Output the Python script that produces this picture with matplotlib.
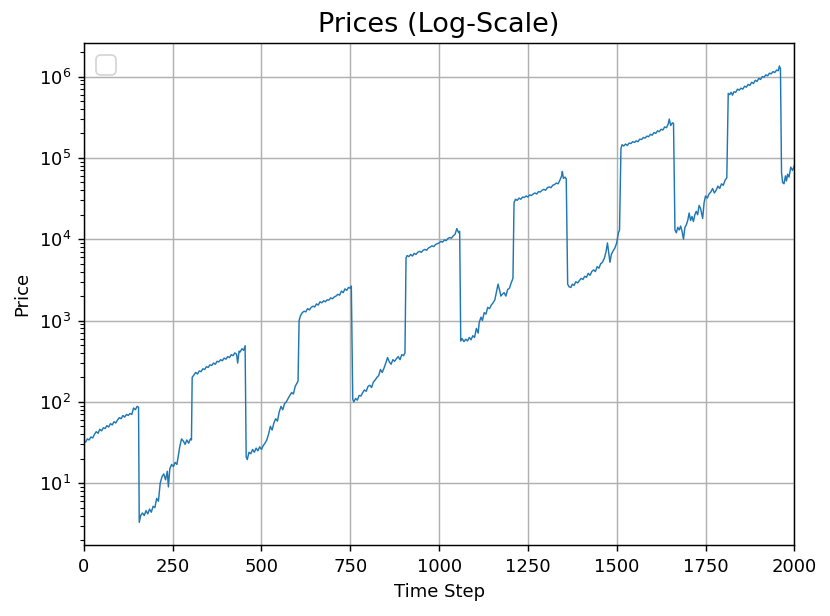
import matplotlib
matplotlib.use("Agg")
import matplotlib.pyplot as plt

# prices, every ~5 steps; each jump is two close points
t_a = [0, 5, 10, 15, 20, 25, 30, 35, 40, 45, 50, 55, 60, 65, 70, 75, 80, 85, 90, 95,
       100, 105, 110, 115, 120, 125, 130, 135, 140, 145, 150, 154]
p_a = [33, 32, 35, 34, 37, 36, 40, 43, 41, 46, 44, 48, 47, 51, 49, 54, 52, 57, 55, 60,
       64, 62, 68, 65, 70, 68, 72, 70, 84, 80, 88, 86]

t_b = [156, 160, 165, 170, 175, 180, 185, 190, 195, 200, 205, 210, 215, 220, 225, 230,
       235, 238, 242, 247, 252, 257, 262, 266, 270, 275, 280, 285, 290, 295, 300, 303]
p_b = [3.3, 4.0, 4.3, 4.0, 4.6, 4.2, 4.8, 4.4, 5.2, 5.0, 6.5, 6.0, 10, 12, 13, 11,
       14, 9, 15, 17, 16, 18, 17, 22, 28, 35, 33, 30, 34, 31, 35, 34]

t_c = [305, 310, 315, 320, 325, 330, 335, 340, 345, 350, 355, 360, 365, 370, 375, 380,
       385, 390, 395, 400, 405, 410, 415, 420, 425, 430, 433, 437, 440, 445, 450, 454]
p_c = [200, 215, 230, 220, 240, 235, 255, 250, 270, 265, 285, 280, 300, 290, 315, 310,
       330, 320, 345, 335, 360, 350, 380, 370, 400, 385, 300, 420, 410, 450, 430, 490]

t_d = [457, 460, 465, 470, 475, 480, 485, 490, 495, 500, 505, 510, 515, 520, 525, 530,
       535, 540, 545, 550, 555, 560, 565, 570, 575, 580, 585, 590, 595, 600, 603]
p_d = [21, 19.5, 24, 23, 26, 24, 27, 25, 28, 26, 29, 31, 34, 40, 50, 45,
       55, 62, 58, 75, 88, 80, 95, 100, 110, 120, 130, 125, 155, 170, 180]

t_e = [606, 610, 615, 620, 625, 630, 635, 640, 645, 650, 655, 660, 665, 670, 675, 680,
       685, 690, 695, 700, 705, 710, 715, 720, 725, 730, 735, 740, 745, 750, 753]
p_e = [1000, 1150, 1250, 1300, 1280, 1400, 1350, 1450, 1500, 1470, 1600, 1550, 1700,
       1650, 1750, 1700, 1800, 1780, 1900, 1850, 1950, 2000, 2100, 2050, 2300, 2200,
       2450, 2350, 2550, 2500, 2650]

t_f = [757, 760, 765, 770, 775, 780, 785, 790, 795, 800, 805, 810, 815, 820, 825, 830,
       835, 840, 845, 850, 855, 860, 865, 870, 875, 880, 885, 890, 895, 900, 904]
p_f = [108, 100, 110, 105, 120, 118, 130, 140, 135, 155, 160, 150, 175, 185, 200, 210,
       250, 230, 260, 300, 350, 310, 290, 330, 315, 340, 360, 330, 380, 370, 400]

t_g = [907, 910, 915, 920, 925, 930, 935, 940, 945, 950, 955, 960, 965, 970, 975, 980,
       985, 990, 995, 1000, 1005, 1010, 1015, 1020, 1025, 1030, 1035, 1040, 1045, 1050,
       1055, 1058]
p_g = [5900, 6300, 6100, 6500, 6200, 6700, 6500, 6900, 7100, 6900, 7300, 7500, 7300,
       7800, 8000, 8300, 8100, 8600, 8800, 9000, 9400, 9200, 9800, 9600, 10200, 10500,
       10300, 11000, 11500, 13500, 12000, 12500]

t_h = [1061, 1065, 1070, 1075, 1080, 1085, 1090, 1095, 1100, 1105, 1110, 1113, 1118,
       1122, 1127, 1132, 1137, 1142, 1147, 1152, 1157, 1162, 1166, 1170, 1174, 1178,
       1183, 1188, 1193, 1198, 1203, 1208]
p_h = [560, 600, 550, 590, 560, 620, 580, 650, 620, 800, 700, 950, 1100, 1000, 1250,
       1200, 1450, 1400, 1550, 1650, 1800, 2300, 2800, 2400, 2000, 2100, 2200, 2000,
       2400, 2500, 2900, 3300]

t_i = [1211, 1215, 1220, 1225, 1230, 1235, 1240, 1245, 1250, 1255, 1260, 1265, 1270,
       1275, 1280, 1285, 1290, 1295, 1300, 1305, 1310, 1315, 1320, 1325, 1330, 1335,
       1340, 1345, 1347, 1350, 1355, 1358]
p_i = [28000, 31000, 30000, 32000, 31000, 33000, 32500, 34000, 33000, 35000, 34500,
       36000, 37000, 36000, 38500, 38000, 40000, 41000, 40000, 43000, 44000, 43000,
       46000, 47000, 49000, 48000, 53000, 60000, 68000, 56000, 58000, 55000]

t_j = [1362, 1366, 1371, 1375, 1380, 1385, 1390, 1395, 1400, 1405, 1410, 1415, 1420,
       1425, 1430, 1435, 1440, 1445, 1450, 1455, 1460, 1465, 1470, 1474, 1478, 1481,
       1485, 1490, 1495, 1500, 1505, 1508]
p_j = [2800, 2600, 2550, 2800, 2700, 3000, 2900, 3100, 3300, 3200, 3500, 3400, 3800,
       3600, 4000, 4200, 4000, 4600, 4400, 5000, 5200, 5800, 7000, 9000, 6500, 5200,
       6500, 7200, 7800, 9000, 12000, 13000]

t_k = [1512, 1515, 1520, 1525, 1530, 1535, 1540, 1545, 1550, 1555, 1560, 1565, 1570,
       1575, 1580, 1585, 1590, 1595, 1600, 1605, 1610, 1615, 1620, 1625, 1630, 1635,
       1640, 1645, 1648, 1652, 1657, 1660]
p_k = [130000, 145000, 140000, 148000, 142000, 152000, 150000, 158000, 155000, 162000,
       158000, 170000, 168000, 178000, 175000, 185000, 182000, 195000, 190000, 205000,
       200000, 215000, 210000, 225000, 220000, 240000, 235000, 260000, 300000, 250000,
       270000, 265000]

t_l = [1664, 1668, 1672, 1676, 1680, 1684, 1688, 1692, 1696, 1700, 1704, 1708, 1712,
       1716, 1720, 1724, 1728, 1732, 1736, 1740, 1742, 1746, 1750, 1755, 1760, 1765,
       1770, 1775, 1780, 1785, 1790, 1795, 1800, 1805, 1810]
p_l = [13000, 12000, 14000, 13000, 14500, 12500, 10000, 14000, 15000, 17000, 21000,
       17000, 19000, 16500, 20000, 22000, 20000, 26000, 24000, 20000, 18000, 28000,
       34000, 32000, 36000, 38000, 42000, 37000, 40000, 45000, 42000, 48000, 46000,
       53000, 57000]

t_m = [1814, 1818, 1822, 1826, 1830, 1835, 1840, 1845, 1850, 1855, 1860, 1865, 1870,
       1875, 1880, 1885, 1890, 1895, 1900, 1905, 1910, 1915, 1920, 1925, 1930, 1935,
       1940, 1945, 1950, 1955, 1958, 1961]
p_m = [620000, 600000, 640000, 590000, 650000, 640000, 700000, 680000, 720000, 700000,
       760000, 740000, 800000, 780000, 850000, 820000, 900000, 870000, 950000, 920000,
       1000000, 980000, 1050000, 1020000, 1100000, 1080000, 1150000, 1120000, 1200000,
       1180000, 1350000, 1250000]

t_n = [1964, 1967, 1971, 1975, 1978, 1981, 1985, 1990, 1995, 2000]
p_n = [66000, 50000, 48000, 60000, 52000, 63000, 58000, 77000, 70000, 80000]

steps = t_a + t_b + t_c + t_d + t_e + t_f + t_g + t_h + t_i + t_j + t_k + t_l + t_m + t_n
prices = p_a + p_b + p_c + p_d + p_e + p_f + p_g + p_h + p_i + p_j + p_k + p_l + p_m + p_n

fig, ax = plt.subplots(figsize=(830 / 130, 616 / 130), dpi=130)
fig.subplots_adjust(left=0.101, right=0.957, bottom=0.115, top=0.930)

ax.plot(steps, prices, color="#1f77b4", lw=0.8)
ax.set_yscale("log")
ax.set_xlim(0, 2000)
ax.set_xticks([0, 250, 500, 750, 1000, 1250, 1500, 1750, 2000])
ax.grid(True, which="major")
ax.set_title("Prices (Log-Scale)", fontsize=15)
ax.set_xlabel("Time Step")
ax.set_ylabel("Price")
ax.legend(loc="upper left", fontsize=13.5)   # empty legend, as in the original

fig.savefig("out.png", dpi=130)
